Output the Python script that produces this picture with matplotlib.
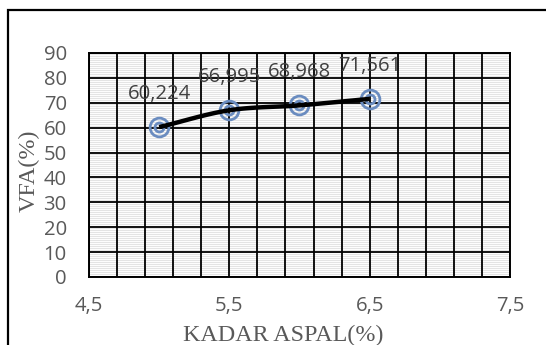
import numpy as np
import matplotlib
matplotlib.use("Agg")
import matplotlib.pyplot as plt
from matplotlib.patches import Rectangle

# Asphalt content vs. VFA
kadar_aspal = [5.0, 5.5, 6.0, 6.5]
vfa = [60.224, 66.995, 68.968, 71.561]
vfa_labels = ["60,224", "66,995", "68,968", "71,561"]
x_ticks = [4.5, 5.5, 6.5, 7.5]
x_tick_labels = ["4,5", "5,5", "6,5", "7,5"]
y_ticks = [0, 10, 20, 30, 40, 50, 60, 70, 80, 90]

W, H, DPI = 546, 345, 100
fig = plt.figure(figsize=(W / DPI, H / DPI), dpi=DPI)
fig.patch.set_facecolor("white")

# chart frame (runs off the right and bottom edges)
fig.add_artist(Rectangle((7.5 / W, -0.2), 1.2, 1 - 9.5 / H + 0.2,
                         transform=fig.transFigure, fill=False,
                         edgecolor="black", linewidth=1.6))

L, R, T, B = 89, 510, 53, 277
ax = fig.add_axes([L / W, 1 - B / H, (R - L) / W, (B - T) / H])
ax.set_xlim(4.5, 7.5)
ax.set_ylim(0, 90)
ax.set_facecolor("white")

# horizontal stripe fill of the plot area
stripe_step = 90 / (B - T) * 2
ax.hlines(np.arange(stripe_step / 2, 90, stripe_step), 4.5, 7.5,
          colors="#e4e4e4", linewidth=0.75, zorder=0)

# grid: vertical every 0.2, horizontal every 10
ax.set_xticks(np.round(np.arange(4.5, 7.51, 0.2), 2), minor=True)
ax.set_xticks(x_ticks)
ax.set_xticklabels(x_tick_labels)
ax.set_yticks(y_ticks)
ax.grid(True, which="both", axis="x", color="black", linewidth=1.3, zorder=1)
ax.grid(True, which="major", axis="y", color="black", linewidth=1.3, zorder=1)
ax.set_axisbelow(True)
for s in ax.spines.values():
    s.set_color("black")
    s.set_linewidth(1.4)

tick_font = 14.6
ax.tick_params(which="both", length=0)
ax.tick_params(axis="x", pad=14, labelsize=tick_font, labelcolor="#595959")
ax.tick_params(axis="y", pad=16, labelsize=tick_font, labelcolor="#595959")
for lab in ax.get_xticklabels() + ax.get_yticklabels():
    lab.set_family("Open Sans")

# smoothed line through the points (Catmull-Rom in pixel space)
pts = ax.transData.transform(np.column_stack([kadar_aspal, vfa]))
P = np.vstack([2 * pts[0] - pts[1], pts, 2 * pts[-1] - pts[-2]])
curve = []
for i in range(1, len(P) - 2):
    p0, p1, p2, p3 = P[i - 1], P[i], P[i + 1], P[i + 2]
    t = np.linspace(0, 1, 40)[:, None]
    seg = 0.5 * ((2 * p1) + (-p0 + p2) * t + (2 * p0 - 5 * p1 + 4 * p2 - p3) * t ** 2
                 + (-p0 + 3 * p1 - 3 * p2 + p3) * t ** 3)
    curve.append(seg)
curve = ax.transData.inverted().transform(np.vstack(curve))

ring = "#6a8cc0"
ax.plot(kadar_aspal, vfa, ls="none", marker="o", ms=13.5, mfc="none",
        mec=ring, mew=2.0, zorder=3, clip_on=False)
ax.plot(kadar_aspal, vfa, ls="none", marker="o", ms=6.5, mfc="none",
        mec=ring, mew=2.0, zorder=3, clip_on=False)
ax.plot(curve[:, 0], curve[:, 1], color="black", lw=3.2,
        solid_capstyle="butt", zorder=4)

for x, y, t in zip(kadar_aspal, vfa, vfa_labels):
    ax.annotate(t, (x, y), xytext=(0, 24), textcoords="offset points",
                ha="center", va="center", fontsize=tick_font, color="#404040",
                family="Open Sans", zorder=5)

fig.text(283.5 / W, 1 - 341 / H, "KADAR ASPAL(%)", ha="center", va="baseline",
         family="Liberation Serif", fontsize=17.3, color="#595959")
fig.text(35 / W, 1 - 171 / H, "VFA(%)", ha="center", va="baseline",
         rotation=90, rotation_mode="anchor", family="Liberation Serif",
         fontsize=17.3, color="#595959")

fig.savefig("out.png", dpi=DPI)
